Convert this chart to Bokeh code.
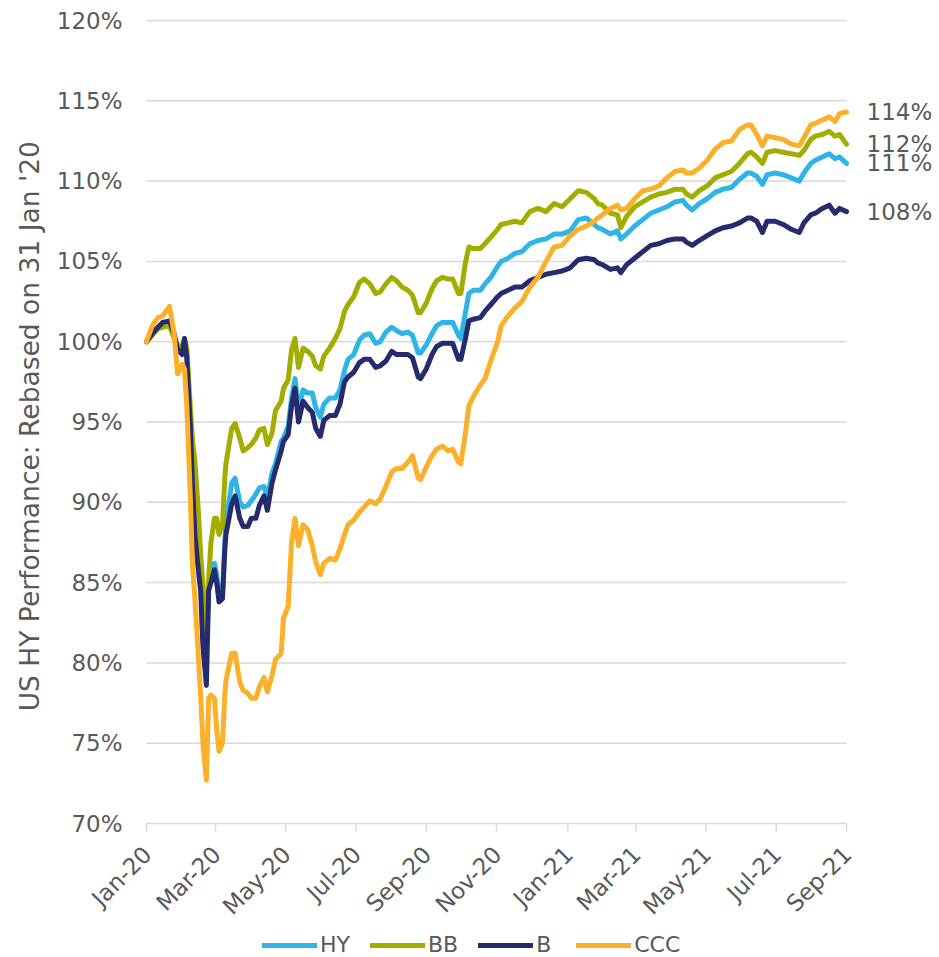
import pandas as pd
from math import pi
from bokeh.plotting import figure
from bokeh.models import ColumnDataSource, Range1d, Legend, LegendItem, Grid
from bokeh.embed import file_html
from bokeh.resources import INLINE
from bokeh.core.properties import value

# ---------------- data ----------------
dates = [
    # Feb - Mar 2020
    "2020-01-31", "2020-02-05", "2020-02-10", "2020-02-14", "2020-02-20", "2020-02-24", "2020-02-27",
    "2020-03-02", "2020-03-04", "2020-03-06", "2020-03-09", "2020-03-11", "2020-03-13", "2020-03-16",
    "2020-03-18", "2020-03-20", "2020-03-23",
    # late Mar - May 2020
    "2020-03-25", "2020-03-27", "2020-03-30", "2020-04-01", "2020-04-03", "2020-04-06", "2020-04-08",
    "2020-04-09", "2020-04-14", "2020-04-17", "2020-04-21", "2020-04-24", "2020-04-28", "2020-05-01",
    "2020-05-05", "2020-05-08", "2020-05-12", "2020-05-15", "2020-05-19", "2020-05-22", "2020-05-27",
    "2020-05-29",
    # Jun - Aug 2020
    "2020-06-02", "2020-06-05", "2020-06-08", "2020-06-11", "2020-06-15", "2020-06-19", "2020-06-23",
    "2020-06-26", "2020-06-30", "2020-07-03", "2020-07-08", "2020-07-13", "2020-07-17", "2020-07-21",
    "2020-07-24", "2020-07-29", "2020-08-03", "2020-08-07", "2020-08-12", "2020-08-17", "2020-08-21",
    "2020-08-26", "2020-08-31",
    # Sep - Dec 2020
    "2020-09-04", "2020-09-09", "2020-09-14", "2020-09-18", "2020-09-23", "2020-09-25", "2020-09-30",
    "2020-10-05", "2020-10-09", "2020-10-14", "2020-10-19", "2020-10-23", "2020-10-28", "2020-10-30",
    "2020-11-03", "2020-11-06", "2020-11-10", "2020-11-16", "2020-11-20", "2020-11-25", "2020-12-01",
    "2020-12-04", "2020-12-10", "2020-12-16", "2020-12-22", "2020-12-29",
    # Jan - May 2021
    "2021-01-05", "2021-01-12", "2021-01-19", "2021-01-26", "2021-02-02", "2021-02-09", "2021-02-16",
    "2021-02-23", "2021-02-26", "2021-03-02", "2021-03-09", "2021-03-15", "2021-03-18", "2021-03-23",
    "2021-03-30", "2021-04-06", "2021-04-13", "2021-04-20", "2021-04-27", "2021-05-04", "2021-05-11",
    "2021-05-14", "2021-05-19", "2021-05-25",
    # Jun - Sep 2021
    "2021-06-01", "2021-06-08", "2021-06-15", "2021-06-22", "2021-06-29", "2021-07-06", "2021-07-09",
    "2021-07-14", "2021-07-19", "2021-07-23", "2021-07-30", "2021-08-06", "2021-08-13", "2021-08-20",
    "2021-08-24", "2021-08-30", "2021-09-03", "2021-09-09", "2021-09-15", "2021-09-20", "2021-09-24",
    "2021-09-30",
]

hy = [
    100.0, 100.5, 100.9, 101.1, 101.2, 100.4, 99.6, 99.3, 100.1, 99.3, 95.0, 91.5, 89.0, 86.8, 85.5, 82.5, 80.8,
    85.0, 85.5, 86.2, 85.5, 84.1, 84.3, 87.5, 88.7, 91.2, 91.5, 90.0, 89.7, 89.8, 90.1, 90.5, 90.9, 91.0, 90.3,
    91.8, 92.4, 93.8, 94.0,
    94.7, 96.5, 97.7, 95.8, 97.0, 96.8, 96.8, 95.9, 95.3, 96.1, 96.5, 96.5, 97.0, 98.2, 98.9, 99.2, 100.1,
    100.4, 100.5, 99.9, 100.0, 100.6, 100.9,
    100.7, 100.5, 100.6, 100.4, 99.3, 99.3, 99.8, 100.5, 101.0, 101.2, 101.2, 101.2, 100.4, 100.2, 101.8,
    103.0, 103.2, 103.2, 103.6, 104.0, 104.7, 105.0, 105.2, 105.5, 105.6, 106.1,
    106.3, 106.4, 106.7, 106.7, 106.9, 107.6, 107.7, 107.3, 107.1, 107.0, 106.7, 106.9, 106.4, 106.7,
    107.2, 107.6, 108.0, 108.2, 108.4, 108.7, 108.8, 108.5, 108.2, 108.6,
    108.9, 109.3, 109.5, 109.6, 110.1, 110.5, 110.5, 110.3, 109.8, 110.4, 110.5, 110.4, 110.2, 110.0,
    110.5, 111.1, 111.3, 111.5, 111.7, 111.4, 111.5, 111.1,
]

bb = [
    100.0, 100.4, 100.8, 100.9, 101.0, 100.2, 99.8, 99.6, 100.2, 99.6, 96.0, 93.8, 92.6, 89.5, 86.8, 84.8, 81.5,
    85.2, 87.5, 89.0, 89.0, 88.0, 88.6, 91.5, 92.4, 94.6, 94.9, 94.0, 93.2, 93.4, 93.6, 94.0, 94.5, 94.6, 93.6,
    94.3, 95.7, 96.3, 97.1,
    97.6, 99.5, 100.2, 98.4, 99.6, 99.4, 99.1, 98.5, 98.3, 99.1, 99.6, 100.2, 100.8, 101.9, 102.3, 102.8,
    103.7, 103.9, 103.6, 103.0, 103.1, 103.6, 104.0,
    103.8, 103.4, 103.2, 102.9, 101.8, 101.8, 102.4, 103.3, 103.8, 104.0, 103.9, 103.9, 103.0, 103.0, 104.9,
    105.9, 105.8, 105.8, 106.1, 106.5, 107.0, 107.3, 107.4, 107.5, 107.4, 108.1,
    108.3, 108.1, 108.6, 108.4, 108.9, 109.4, 109.3, 108.9, 108.6, 108.5, 108.0, 107.9, 107.1, 107.8,
    108.4, 108.7, 109.0, 109.2, 109.3, 109.5, 109.5, 109.2, 109.0, 109.4,
    109.7, 110.2, 110.4, 110.6, 111.1, 111.7, 111.8, 111.5, 111.1, 111.8, 111.9, 111.8, 111.7, 111.6,
    111.9, 112.6, 112.8, 112.9, 113.1, 112.8, 112.9, 112.3,
]

b = [
    100.0, 100.5, 100.9, 101.2, 101.3, 100.5, 99.5, 99.2, 100.2, 99.0, 94.8, 91.0, 88.0, 85.8, 84.5, 81.0, 78.6,
    84.5, 85.0, 85.8, 85.0, 83.8, 84.0, 87.0, 88.0, 89.9, 90.4, 89.0, 88.5, 88.5, 89.0, 89.0, 89.8, 90.4, 89.5,
    91.2, 92.0, 93.2, 93.8,
    94.2, 96.0, 97.1, 95.0, 96.3, 95.9, 95.6, 94.6, 94.1, 95.1, 95.4, 95.4, 96.1, 97.5, 97.8, 98.1, 98.7,
    98.9, 98.9, 98.4, 98.5, 98.8, 99.4,
    99.2, 99.2, 99.2, 99.0, 97.8, 97.7, 98.3, 99.2, 99.7, 99.9, 99.9, 99.9, 98.9, 98.9, 100.2,
    101.3, 101.4, 101.5, 101.9, 102.3, 102.8, 103.0, 103.2, 103.4, 103.4, 103.8,
    104.0, 104.2, 104.3, 104.4, 104.6, 105.1, 105.2, 105.1, 104.9, 104.8, 104.5, 104.6, 104.3, 104.8,
    105.2, 105.6, 106.0, 106.1, 106.3, 106.4, 106.4, 106.2, 106.0, 106.3,
    106.6, 106.9, 107.1, 107.2, 107.4, 107.7, 107.7, 107.5, 106.8, 107.5, 107.5, 107.3, 107.0, 106.8,
    107.4, 107.9, 108.0, 108.3, 108.5, 108.0, 108.3, 108.1,
]

ccc = [
    100.0, 101.0, 101.5, 101.6, 102.2, 100.5, 98.0, 98.6, 98.3, 96.0, 90.5, 86.0, 84.0, 80.5, 78.0, 75.0, 72.7,
    77.8, 78.0, 77.8, 75.8, 74.5, 75.0, 78.0, 78.9, 80.6, 80.6, 78.8, 78.3, 78.1, 77.8, 77.8, 78.5, 79.1, 78.2,
    79.2, 80.2, 80.6, 82.8,
    83.5, 87.5, 89.0, 87.3, 88.6, 88.3, 87.3, 86.3, 85.5, 86.2, 86.5, 86.4, 87.1, 88.0, 88.6, 88.9, 89.4,
    89.7, 90.1, 89.9, 90.2, 91.0, 91.9,
    92.1, 92.1, 92.5, 92.9, 91.5, 91.4, 92.2, 92.9, 93.3, 93.5, 93.2, 93.3, 92.5, 92.4, 94.3,
    96.0, 96.6, 97.3, 97.7, 98.8, 100.0, 101.0, 101.6, 102.1, 102.5, 103.4,
    104.0, 105.0, 105.9, 106.0, 106.6, 107.0, 107.2, 107.5, 107.7, 107.9, 108.3, 108.5, 108.2, 108.3,
    108.9, 109.4, 109.5, 109.7, 110.2, 110.6, 110.7, 110.5, 110.5, 110.8,
    111.3, 112.0, 112.4, 112.5, 113.2, 113.5, 113.5, 112.9, 112.2, 112.8, 112.7, 112.6, 112.3, 112.2,
    112.7, 113.5, 113.6, 113.8, 114.0, 113.7, 114.2, 114.3,
]

series_names = ["HY", "BB", "B", "CCC"]
series_colors = ["#2EB4E6", "#A2AD00", "#262A6E", "#FBB02A"]

x_tick_dates = ["2020-01-31", "2020-03-31", "2020-05-31", "2020-07-31", "2020-09-30", "2020-11-30",
                "2021-01-31", "2021-03-31", "2021-05-31", "2021-07-31", "2021-09-30"]
x_tick_labels = ["Jan-20", "Mar-20", "May-20", "Jul-20", "Sep-20", "Nov-20",
                 "Jan-21", "Mar-21", "May-21", "Jul-21", "Sep-21"]
y_ticks = [70, 75, 80, 85, 90, 95, 100, 105, 110, 115, 120]
y_tick_labels = [f"{t}%" for t in y_ticks]
y_title = "US HY Performance:  Rebased on 31 Jan '20"

assert len(dates) == len(hy) == len(bb) == len(b) == len(ccc)

# ---------------- layout (pixels) ----------------
FONT = "DejaVu Sans"
TXT = "#595959"
GRID = "#D9D9D9"
W, H = 939, 957
PLOT_L, PLOT_W = 146, 700      # the chart band: Jan-20 .. Sep-21
PLOT_T, PLOT_H = 20, 803       # the chart band: 120% .. 70%

t0 = pd.Timestamp(x_tick_dates[0])
t1 = pd.Timestamp(x_tick_dates[-1])
px_per_ms = PLOT_W / (t1 - t0).total_seconds() / 1000
px_per_unit = PLOT_H / (y_ticks[-1] - y_ticks[0])
x_start = t0 - pd.Timedelta(milliseconds=PLOT_L / px_per_ms)
x_end = t1 + pd.Timedelta(milliseconds=(W - PLOT_L - PLOT_W) / px_per_ms)
y_top = y_ticks[-1] + PLOT_T / px_per_unit
y_bot = y_ticks[0] - (H - PLOT_T - PLOT_H) / px_per_unit
tick_len = 8 / px_per_unit

p = figure(
    frame_width=W, frame_height=H,
    min_border_left=0, min_border_top=0, min_border_right=0, min_border_bottom=0,
    x_axis_location=None, y_axis_location=None,
    x_range=Range1d(x_start, x_end), y_range=Range1d(y_bot, y_top),
    output_backend="svg", toolbar_location=None,
)
p.outline_line_color = None
p.background_fill_color = "white"
p.border_fill_color = "white"
for g in p.select(type=Grid):
    g.visible = False

tick_x = pd.to_datetime(x_tick_dates)
n_y = len(y_ticks)
base = y_ticks[0]

# horizontal grid lines across the chart band
p.segment(x0=[t0] * n_y, y0=y_ticks, x1=[t1] * n_y, y1=y_ticks, line_color=GRID, line_width=1.5)

# x axis ticks under the 70% line
p.segment(x0=tick_x, y0=[base] * len(tick_x), x1=tick_x, y1=[base - tick_len] * len(tick_x),
          line_color=GRID, line_width=1.5)

renderers = []
src = ColumnDataSource(dict(date=pd.to_datetime(dates), HY=hy, BB=bb, B=b, CCC=ccc))
for name, color in zip(series_names, series_colors):
    r = p.line(x="date", y=name, source=src, line_color=color, line_width=5,
               line_join="round", line_cap="round")
    renderers.append(r)

# x tick labels (rotated)
xlab_src = ColumnDataSource(dict(x=tick_x, y=[base] * len(tick_x), t=x_tick_labels))
p.text(x="x", y="y", text="t", source=xlab_src, angle=pi / 4, x_offset=1, y_offset=27,
       text_align="right", text_baseline="middle", text_font=value(FONT),
       text_font_size="23px", text_color=TXT)

# y tick labels
ylab_src = ColumnDataSource(dict(x=[t0] * n_y, y=y_ticks, t=y_tick_labels))
p.text(x="x", y="y", text="t", source=ylab_src, x_offset=-24, text_align="right",
       text_baseline="middle", text_font=value(FONT), text_font_size="23px", text_color=TXT)

# y title (rotated), centred on the chart band
p.text(x=[t0], y=[(y_ticks[0] + y_ticks[-1]) / 2], text=[y_title],
       angle=pi / 2, x_offset=-117, text_align="center", text_baseline="middle",
       text_font=value(FONT), text_font_size="26.5px", text_color=TXT)

# end labels
last_vals = [hy[-1], bb[-1], b[-1], ccc[-1]]
lab_src = ColumnDataSource(dict(
    x=[pd.Timestamp(dates[-1])] * 4,
    y=last_vals,
    t=[f"{round(v)}%" for v in last_vals],
))
p.text(x="x", y="y", text="t", source=lab_src, x_offset=20, text_align="left",
       text_baseline="middle", text_font=value(FONT), text_font_size="23px", text_color=TXT)

legend = Legend(
    items=[LegendItem(label=n, renderers=[r]) for n, r in zip(series_names, renderers)],
    orientation="horizontal", location=(262, 0),
    glyph_width=55, glyph_height=24, label_standoff=3, spacing=20, label_height=24,
    label_text_font=FONT, label_text_font_size="22px", label_text_color=TXT,
    border_line_color=None, background_fill_alpha=0, padding=0, margin=0,
)
p.add_layout(legend, "center")

open("out.html", "w").write(file_html(p, INLINE))
